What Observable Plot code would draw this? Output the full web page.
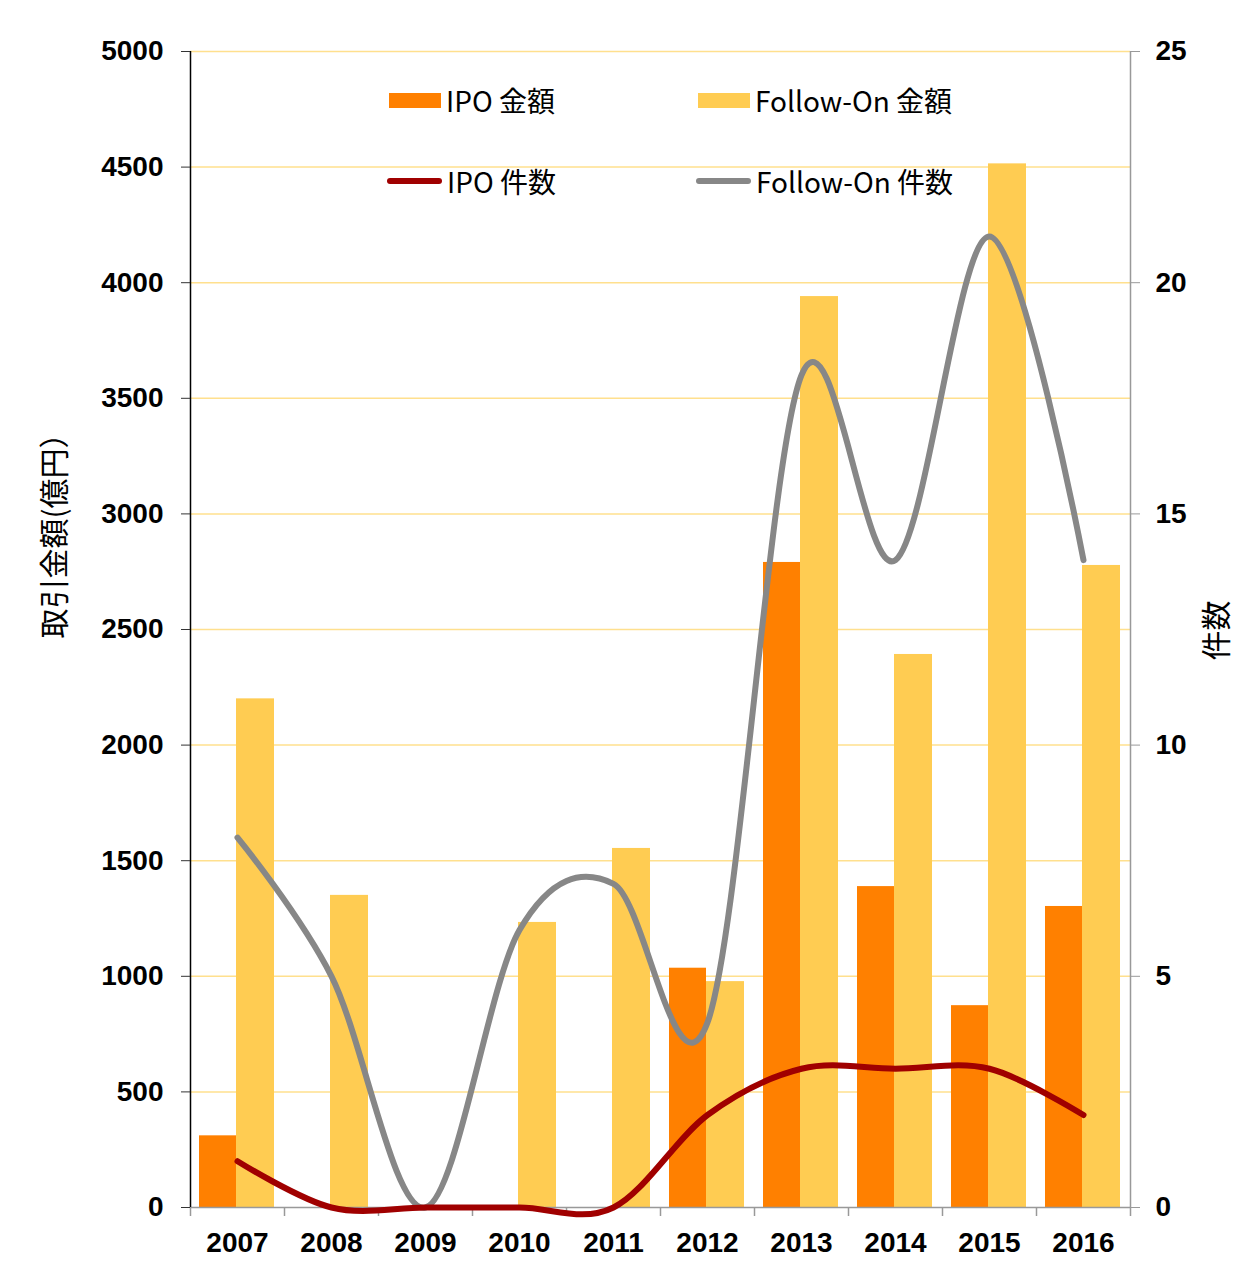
<!DOCTYPE html>
<html>
<head>
<meta charset="utf-8">
<script src="https://cdn.jsdelivr.net/npm/d3@7"></script>
<script src="https://cdn.jsdelivr.net/npm/@observablehq/plot@0.6"></script>
<style>
  html, body { margin: 0; padding: 0; background: #fff; }
  #wrap { position: relative; width: 1248px; height: 1262px; }
  #legend { position: absolute; left: 0; top: 0; width: 1248px; height: 220px; pointer-events: none;
    font-family: "Noto Sans CJK JP", "Noto Sans", sans-serif; font-size: 28px; color: #000; }
  .item { position: absolute; display: flex; align-items: center; height: 40px; white-space: nowrap; }
  .sw { display: inline-block; margin-right: 5px; }
  .rect { width: 52px; height: 15px; }
  .ln { width: 55px; height: 6px; border-radius: 3px; }
</style>
</head>
<body>
<div id="wrap"></div>
<script>
const years = ["2007","2008","2009","2010","2011","2012","2013","2014","2015","2016"];
const ipoAmount = [310, 0, 0, 0, 0, 1035, 2790, 1388, 873, 1302];
const foAmount  = [2200, 1350, 0, 1233, 1553, 977, 3940, 2392, 4514, 2777];
const ipoCount  = [1, 0, 0, 0, 0, 2, 3, 3, 3, 2];
const foCount   = [8, 5, 0, 6, 7, 4, 18, 14, 21, 14];
const leftTicks  = [0, 500, 1000, 1500, 2000, 2500, 3000, 3500, 4000, 4500, 5000];
const rightTicks = [0, 5, 10, 15, 20, 25];
const seriesNames = ["IPO 金額", "Follow-On 金額", "IPO 件数", "Follow-On 件数"];
const leftLabel = "取引金額(億円）";
const rightLabel = "件数";

const colors = { ipoBar: "#FF8000", foBar: "#FFCC52", ipoLine: "#A00000", foLine: "#878787", grid: "#FFE08E" };
const ratio = 5000 / 25;   // right-axis counts mapped onto left-axis scale
const bw = 94;             // band width in px (940 / 10)
const tickDown = -9 * 5000 / 1156; // 9px below zero, in data units

const tickFont = { fontFamily: "'Liberation Sans', Arial, sans-serif", fontSize: 28, fontWeight: "bold" };
const labelFont = { fontFamily: "'Noto Sans CJK JP', sans-serif", fontSize: 30, fill: "#000", textAnchor: "middle" };

const chart = Plot.plot({
  width: 1248,
  height: 1262,
  marginLeft: 190,
  marginRight: 118,
  marginTop: 51,
  marginBottom: 55,
  style: { background: "#fff", overflow: "visible" },
  x: { type: "band", domain: years, padding: 0 },
  y: { domain: [0, 5000] },
  marks: [
    Plot.gridY(leftTicks.filter(d => d > 0), { stroke: colors.grid, strokeOpacity: 1, strokeWidth: 1.5 }),
    Plot.barY(years, { x: d => d, y: (d, i) => ipoAmount[i], fill: colors.ipoBar, insetLeft: 9, insetRight: bw - 46 }),
    Plot.barY(years, { x: d => d, y: (d, i) => foAmount[i], fill: colors.foBar, insetLeft: 46, insetRight: 10 }),
    // bottom axis line and ticks between categories
    Plot.ruleY([0], { stroke: "#999", strokeWidth: 1.5 }),
    Plot.ruleX(years, { x: d => d, y1: 0, y2: tickDown, dx: -bw / 2, stroke: "#999", strokeWidth: 1.5 }),
    // left axis line
    Plot.ruleX([years[0]], { x: d => d, y1: 0, y2: 5000, dx: -bw / 2, stroke: "#000", strokeWidth: 1.5 }),
    // right axis line
    Plot.ruleX([years[years.length - 1]], { x: d => d, y1: tickDown, y2: 5000, dx: bw / 2, stroke: "#999", strokeWidth: 1.5 }),
    Plot.axisY({ anchor: "left", ticks: leftTicks, tickFormat: d => String(d), tickSize: 9, tickPadding: 18, stroke: "#333", label: null, ...tickFont }),
    Plot.axisY({ anchor: "right", ticks: rightTicks.map(d => d * ratio), tickFormat: d => String(d / ratio), tickSize: 9, tickPadding: 16, stroke: "#999", label: null, ...tickFont }),
    Plot.axisX({ tickSize: 0, tickPadding: 25, label: null, ...tickFont }),
    Plot.line(years, { x: d => d, y: (d, i) => foCount[i] * ratio, curve: "cardinal", tension: 0, stroke: colors.foLine, strokeWidth: 6, strokeLinecap: "round" }),
    Plot.line(years, { x: d => d, y: (d, i) => ipoCount[i] * ratio, curve: "cardinal", tension: 0, stroke: colors.ipoLine, strokeWidth: 6, strokeLinecap: "round" }),
    Plot.text([leftLabel], { text: d => d, frameAnchor: "left", dx: -135, dy: -101, rotate: -90, ...labelFont }),
    Plot.text([rightLabel], { text: d => d, frameAnchor: "right", dx: 87, dy: 1, rotate: -90, ...labelFont })
  ]
});

const wrap = document.getElementById("wrap");
wrap.appendChild(chart);

// legend overlay
const legend = document.createElement("div");
legend.id = "legend";
const items = [
  { name: seriesNames[0], cls: "rect", color: colors.ipoBar, left: 389, top: 80 },
  { name: seriesNames[1], cls: "rect", color: colors.foBar, left: 698, top: 80 },
  { name: seriesNames[2], cls: "ln", color: colors.ipoLine, left: 387, top: 161 },
  { name: seriesNames[3], cls: "ln", color: colors.foLine, left: 696, top: 161 }
];
for (const it of items) {
  const el = document.createElement("div");
  el.className = "item";
  el.style.left = it.left + "px";
  el.style.top = it.top + "px";
  const sw = document.createElement("span");
  sw.className = "sw " + it.cls;
  sw.style.background = it.color;
  const tx = document.createElement("span");
  tx.textContent = it.name;
  el.appendChild(sw);
  el.appendChild(tx);
  legend.appendChild(el);
}
wrap.appendChild(legend);
</script>
</body>
</html>
